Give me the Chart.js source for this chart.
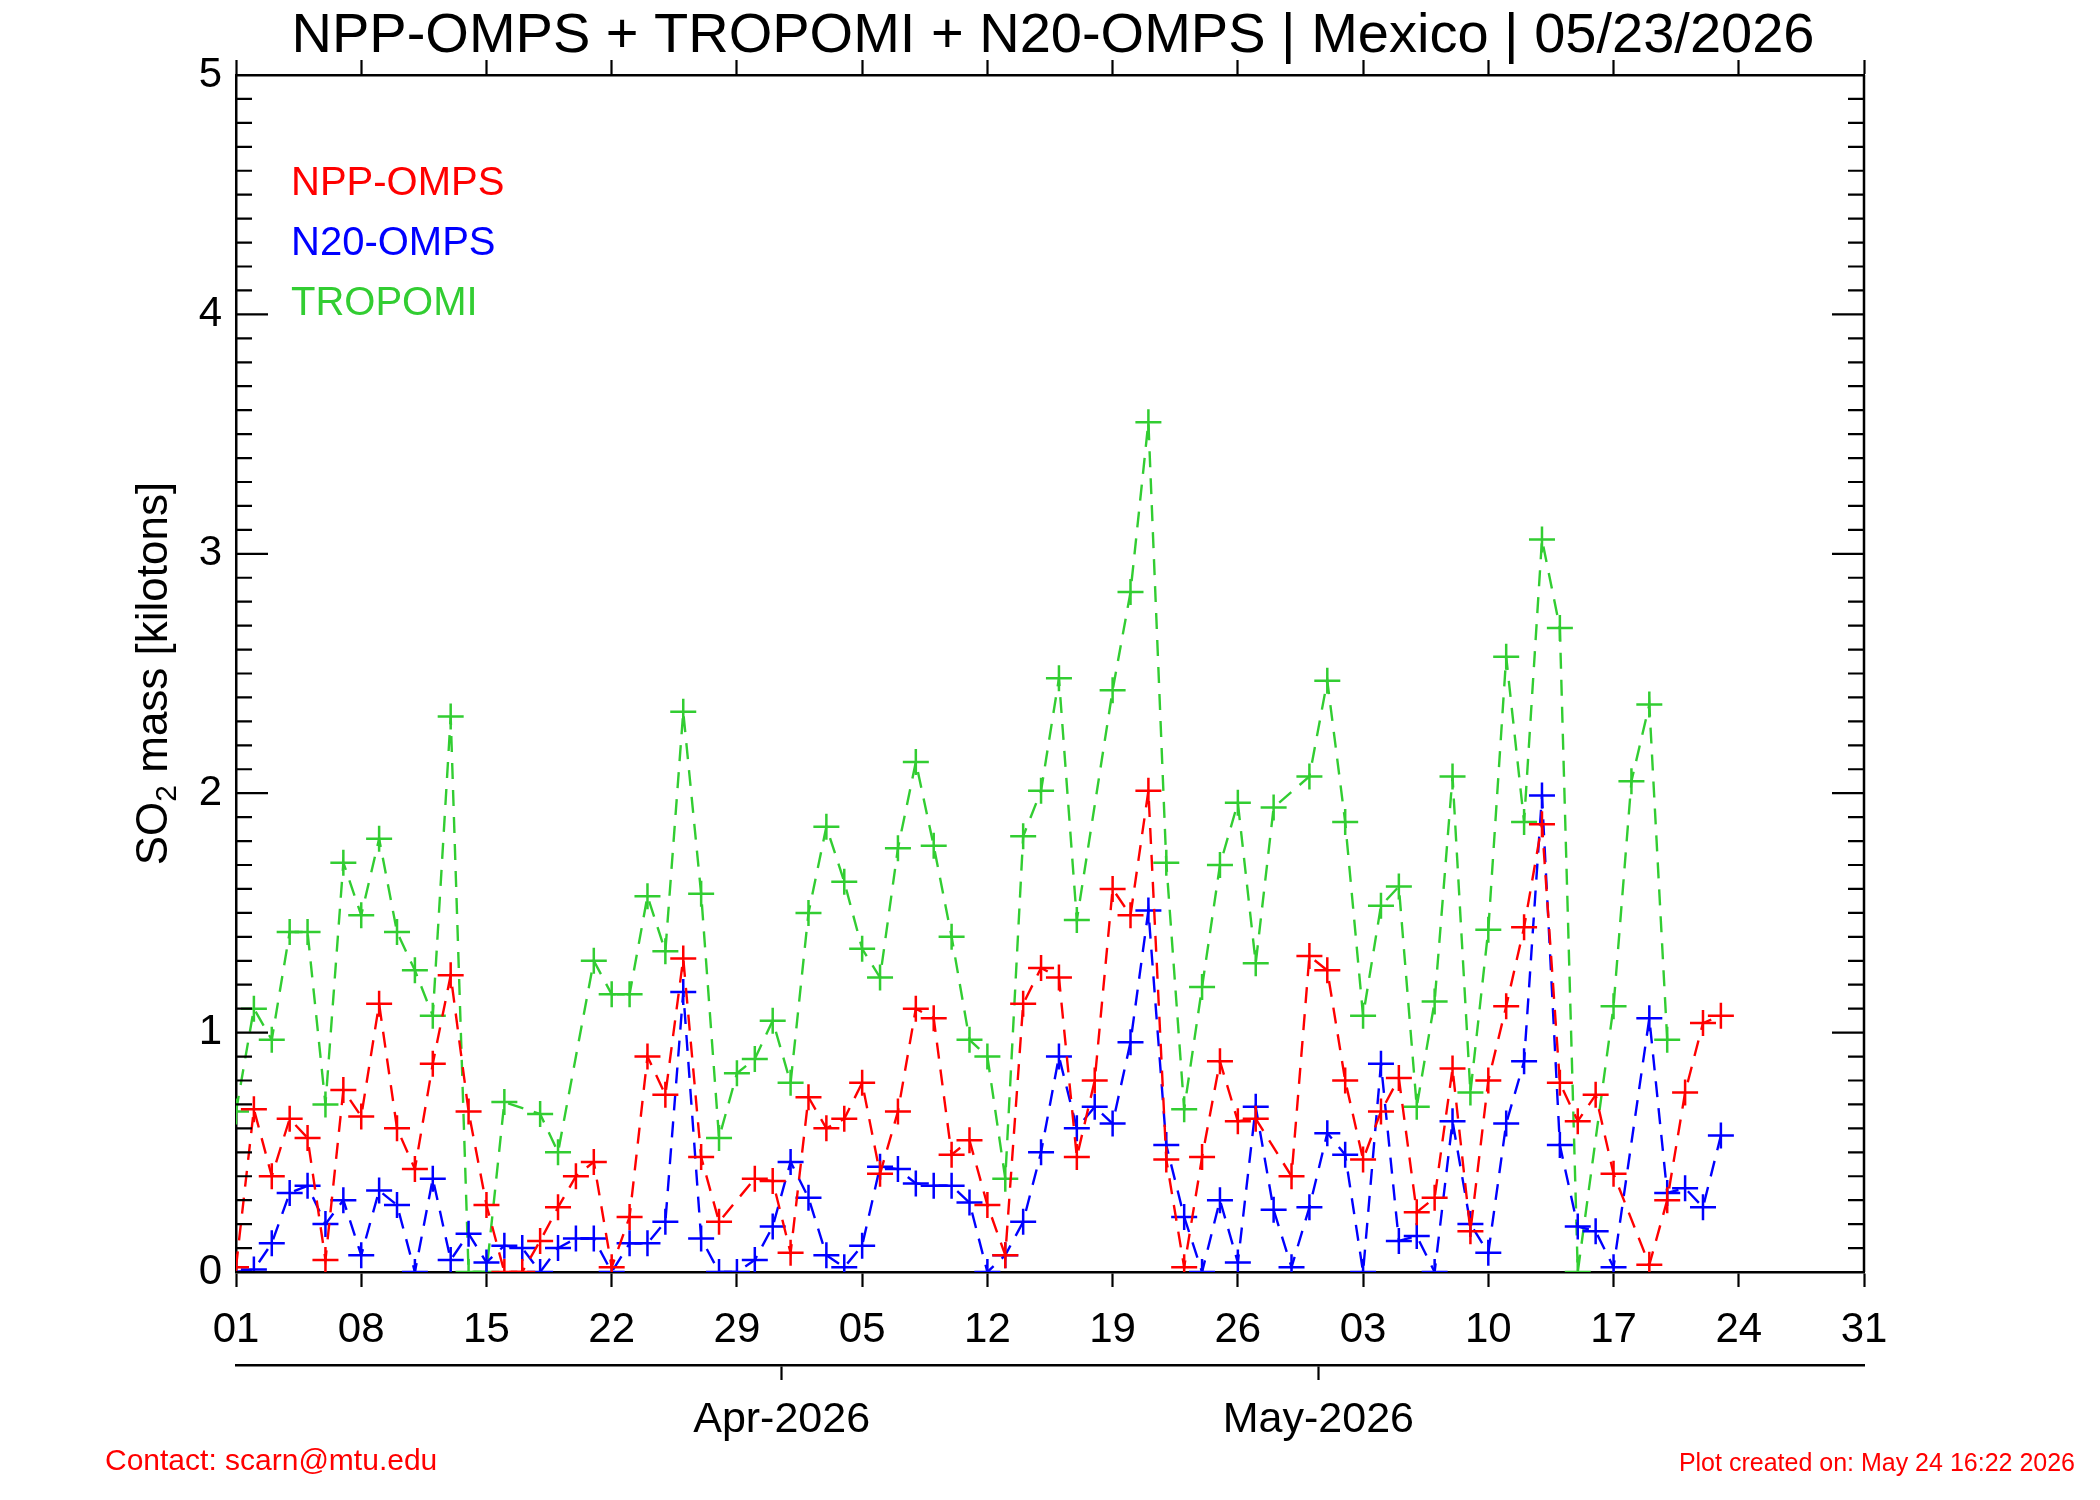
<!DOCTYPE html>
<html lang="en">
<head>
<meta charset="UTF-8">
<title>SO2 mass - Mexico</title>
<script src="https://cdn.jsdelivr.net/npm/chart.js@4"></script>
<style>
  html, body { margin: 0; padding: 0; background: #fff; }
  canvas { display: block; }
</style>
</head>
<body>
<canvas id="so2Chart" width="2100" height="1500"></canvas>
<script>
// daily SO2 mass [kt], day 1 = 01 Mar 2026 ... day 84 = 23 May 2026, null = no data
const nppOmps = [
  0.02, 0.68, 0.40, 0.64, 0.56, 0.05, 0.76, 0.65, 1.12, 0.60,
  0.43, 0.87, 1.24, 0.67, 0.28, 0.00, 0.00, 0.13, 0.27, 0.40,
  0.46, 0.02, 0.23, 0.90, 0.74, 1.31, 0.48, 0.21, null, 0.39,
  0.38, 0.08, 0.73, 0.60, 0.64, 0.79, 0.41, 0.67, 1.10, 1.06,
  0.49, 0.55, 0.28, 0.07, 1.12, 1.27, 1.23, 0.48, 0.80, 1.60,
  1.49, 2.01, 0.47, 0.02, 0.48, 0.88, 0.63, 0.64, null, 0.40,
  1.32, 1.26, 0.80, 0.47, 0.67, 0.81, 0.25, 0.31, 0.85, 0.17,
  0.80, 1.11, 1.44, 1.87, 0.79, 0.63, 0.74, 0.41, null, 0.03,
  0.30, 0.75, 1.04, 1.07
];
const n20Omps = [
  0.00, 0.01, 0.12, 0.33, 0.36, 0.20, 0.30, 0.07, 0.34, 0.28,
  0.00, 0.39, 0.05, 0.16, 0.04, 0.11, 0.10, 0.00, 0.10, 0.14,
  0.14, 0.00, 0.12, 0.12, 0.21, 1.17, 0.14, 0.00, 0.00, 0.05,
  0.19, 0.46, 0.31, 0.07, 0.02, 0.11, 0.44, 0.43, 0.37, 0.36,
  0.36, 0.29, 0.00, 0.07, 0.21, 0.50, 0.90, 0.60, 0.69, 0.62,
  0.96, 1.51, 0.53, 0.23, 0.00, 0.30, 0.04, 0.69, 0.26, 0.02,
  0.27, 0.58, 0.49, 0.00, 0.87, 0.13, 0.15, 0.00, 0.63, 0.20,
  0.08, 0.62, 0.88, 1.99, 0.53, 0.19, 0.17, 0.02, null, 1.06,
  0.33, 0.35, 0.27, 0.57
];
const tropomi = [
  0.67, 1.10, 0.97, 1.42, 1.42, 0.70, 1.71, 1.49, 1.81, 1.42,
  1.26, 1.07, 2.32, 0.00, 0.00, 0.71, null, 0.66, 0.50, null,
  1.30, 1.16, 1.16, 1.57, 1.34, 2.34, 1.58, 0.56, 0.83, 0.89,
  1.05, 0.79, 1.50, 1.86, 1.63, 1.35, 1.23, 1.77, 2.13, 1.78,
  1.40, 0.97, 0.90, 0.39, 1.82, 2.01, 2.48, 1.47, null, 2.43,
  2.84, 3.55, 1.71, 0.68, 1.19, 1.70, 1.96, 1.29, 1.94, null,
  2.07, 2.47, 1.88, 1.07, 1.53, 1.61, 0.69, 1.13, 2.07, 0.75,
  1.43, 2.57, 1.88, 3.06, 2.69, 0.00, null, 1.11, 2.05, 2.37,
  0.97, null, null, null
];

const seriesNames = ['NPP-OMPS', 'N20-OMPS', 'TROPOMI'];
const seriesColors = ['#ff0000', '#0000ff', '#32cd32'];

const dayTicks = [1, 8, 15, 22, 29, 36, 43, 50, 57, 64, 71, 78, 85, 92];
const dayTickLabels = ['01', '08', '15', '22', '29', '05', '12', '19', '26', '03', '10', '17', '24', '31'];
const monthTicks = [31.5, 61.5];
const monthLabels = ['Apr-2026', 'May-2026'];

const titleText = 'NPP-OMPS + TROPOMI + N20-OMPS | Mexico | 05/23/2026';
const contactText = 'Contact: scarn@mtu.edu';
const createdText = 'Plot created on: May 24 16:22 2026';

const FONT = "'Liberation Sans', Arial, Helvetica, sans-serif";

function toPoints(arr) {
  return arr.map((v, i) => ({ x: i + 1, y: v }));
}

function makeSet(name, values, color) {
  return {
    label: name,
    data: toPoints(values),
    borderColor: color,
    backgroundColor: color,
    borderWidth: 2.4,
    borderDash: [16, 11],
    pointStyle: 'cross',
    pointRadius: 13,
    pointHoverRadius: 13,
    pointBorderWidth: 2.5,
    pointBorderColor: color,
    spanGaps: true,
    tension: 0,
    fill: false,
    clip: 0
  };
}

// frame, inward y ticks, axis title, legend text, title and footer
const decorations = {
  id: 'decorations',
  afterDraw(chart) {
    const ctx = chart.ctx;
    const { left, right, top, bottom } = chart.chartArea;
    const y = chart.scales.y;

    ctx.save();
    ctx.strokeStyle = '#000';
    ctx.lineWidth = 2.5;
    ctx.beginPath();
    ctx.moveTo(right, top);
    ctx.lineTo(right, bottom);
    ctx.stroke();

    ctx.lineWidth = 2.2;
    for (let i = 0; i <= 50; i++) {
      const py = y.getPixelForValue(i / 10);
      const len = i % 10 === 0 ? 32 : 16;
      ctx.beginPath();
      ctx.moveTo(left, py);
      ctx.lineTo(left + len, py);
      ctx.moveTo(right, py);
      ctx.lineTo(right - len, py);
      ctx.stroke();
    }

    // y title with subscript
    ctx.fillStyle = '#000';
    ctx.textBaseline = 'alphabetic';
    ctx.textAlign = 'left';
    const big = '44px ' + FONT, small = '30px ' + FONT;
    ctx.font = big;
    const w1 = ctx.measureText('SO').width;
    const w3 = ctx.measureText(' mass [kilotons]').width;
    ctx.font = small;
    const w2 = ctx.measureText('2').width;
    const total = w1 + w2 + w3;
    ctx.translate(167, (top + bottom) / 2);
    ctx.rotate(-Math.PI / 2);
    let tx = -total / 2;
    ctx.font = big;
    ctx.fillText('SO', tx, 0);
    tx += w1;
    ctx.font = small;
    ctx.fillText('2', tx, 9);
    tx += w2;
    ctx.font = big;
    ctx.fillText(' mass [kilotons]', tx, 0);
    ctx.setTransform(1, 0, 0, 1, 0, 0);

    // legend as coloured text
    ctx.font = '40px ' + FONT;
    chart.data.datasets.forEach((ds, i) => {
      ctx.fillStyle = ds.borderColor;
      ctx.fillText(ds.label, 291, 195 + i * 60);
    });

    // title
    ctx.fillStyle = '#000';
    ctx.font = '56px ' + FONT;
    ctx.textAlign = 'center';
    ctx.fillText(titleText, (left + right) / 2 + 3, 52);

    // footer
    ctx.fillStyle = '#ff0000';
    ctx.font = '30px ' + FONT;
    ctx.textAlign = 'left';
    ctx.fillText(contactText, 105, 1470);
    ctx.font = '25px ' + FONT;
    ctx.textAlign = 'right';
    ctx.fillText(createdText, 2075, 1471);
    ctx.restore();
  }
};

const tickFont = { family: FONT, size: 42 };
const blackGrid = {
  drawOnChartArea: false,
  drawTicks: true,
  tickLength: 15,
  tickWidth: 2.2,
  tickColor: '#000',
  color: '#000'
};

new Chart(document.getElementById('so2Chart'), {
  type: 'line',
  data: {
    datasets: [
      makeSet(seriesNames[0], nppOmps, seriesColors[0]),
      makeSet(seriesNames[1], n20Omps, seriesColors[1]),
      makeSet(seriesNames[2], tropomi, seriesColors[2])
    ]
  },
  options: {
    responsive: false,
    devicePixelRatio: 1,
    animation: false,
    events: [],
    layout: { padding: { left: 0, right: 236, top: 60, bottom: 35 } },
    plugins: {
      legend: { display: false },
      title: { display: false },
      tooltip: { enabled: false }
    },
    scales: {
      x: {
        type: 'linear',
        axis: 'x',
        position: 'bottom',
        weight: 0,
        min: 1,
        max: 92,
        afterBuildTicks: s => { s.ticks = dayTicks.map(v => ({ value: v })); },
        afterFit: s => { s.height = 93; },
        ticks: {
          autoSkip: false,
          maxRotation: 0,
          padding: 18,
          color: '#000',
          font: tickFont,
          callback: (v, i) => dayTickLabels[i]
        },
        grid: blackGrid,
        border: { display: true, color: '#000', width: 2.5 }
      },
      x3: {
        type: 'linear',
        axis: 'x',
        position: 'bottom',
        weight: 1,
        min: 1,
        max: 92,
        afterBuildTicks: s => { s.ticks = monthTicks.map(v => ({ value: v })); },
        afterFit: s => { s.height = 100; },
        ticks: {
          autoSkip: false,
          maxRotation: 0,
          padding: 14,
          color: '#000',
          font: { family: FONT, size: 43 },
          callback: (v, i) => monthLabels[i]
        },
        grid: blackGrid,
        border: { display: true, color: '#000', width: 2.5 }
      },
      x2: {
        type: 'linear',
        axis: 'x',
        position: 'top',
        min: 1,
        max: 92,
        afterBuildTicks: s => { s.ticks = dayTicks.map(v => ({ value: v })); },
        afterFit: s => { s.height = 15; },
        ticks: { display: false },
        grid: blackGrid,
        border: { display: true, color: '#000', width: 2.5 }
      },
      y: {
        type: 'linear',
        position: 'left',
        min: 0,
        max: 5,
        afterFit: s => { s.width = 236; },
        ticks: {
          stepSize: 1,
          padding: 14,
          color: '#000',
          font: tickFont
        },
        grid: { display: false, drawTicks: false },
        border: { display: true, color: '#000', width: 2.5 }
      }
    }
  },
  plugins: [decorations]
});
</script>
</body>
</html>
